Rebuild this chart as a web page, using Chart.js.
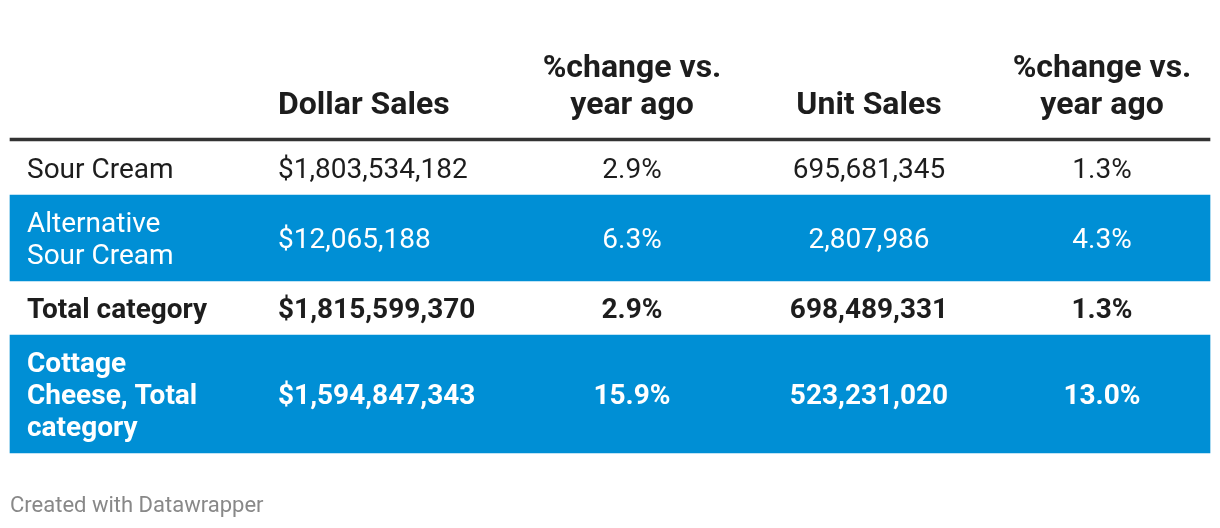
<!DOCTYPE html>
<html>
<head>
<meta charset="utf-8">
<script src="https://cdn.jsdelivr.net/npm/chart.js@4/dist/chart.umd.min.js"></script>
<style>
  html, body { margin: 0; padding: 0; background: #fff; }
  #wrap { position: relative; width: 1220px; height: 528px; }
</style>
</head>
<body>
<div id="wrap"><canvas id="table" width="1220" height="528"></canvas></div>
<script>
// Table content
const headers = [[], ['Dollar Sales'], ['%change vs.', 'year ago'], ['Unit Sales'], ['%change vs.', 'year ago']];
const rowLabels = [['Sour Cream'], ['Alternative', 'Sour Cream'], ['Total category'], ['Cottage', 'Cheese, Total', 'category']];
const dollarSales = [1803534182, 12065188, 1815599370, 1594847343];
const dollarChange = [2.9, 6.3, 2.9, 15.9];
const unitSales = [695681345, 2807986, 698489331, 523231020];
const unitChange = [1.3, 4.3, 1.3, 13.0];
const highlighted = [false, true, false, true];
const boldRows = [false, false, true, true];

// Layout (in layout units of the chart scales)
const tableLeft = 10, tableRight = 1210;
const headerRule = 139.5, bodyTop = 141;
const lineHeight = 32, rowPad = 11;
const textShift = 3; // canvas 'middle' sits a bit high for Roboto
const colX = [27, 278, 632, 869, 1102];
const colAlign = ['left', 'left', 'center', 'center', 'center'];
const blue = '#008fd5';
const ink = '#1d1d1d';

const fmtMoney = v => '$' + v.toLocaleString('en-US');
const fmtNum = v => v.toLocaleString('en-US');
const fmtPct = v => v.toFixed(1) + '%';

// row extents from line counts
const rowTop = [], rowHeight = [];
let cursor = bodyTop;
rowLabels.forEach(lines => {
    rowTop.push(cursor);
    const h = lines.length * lineHeight + rowPad * 2;
    rowHeight.push(h);
    cursor += h;
});

const cells = rowLabels.map((lines, i) => [
    lines,
    [fmtMoney(dollarSales[i])],
    [fmtPct(dollarChange[i])],
    [fmtNum(unitSales[i])],
    [fmtPct(unitChange[i])]
]);

// one floating bar per row as background, plus the header rule
const datasets = rowLabels.map((lines, i) => ({
    data: [{ x: [tableLeft, tableRight], y: rowTop[i] + rowHeight[i] / 2 }],
    backgroundColor: highlighted[i] ? blue : 'rgba(0,0,0,0)',
    barThickness: rowHeight[i],
    grouped: false
}));
datasets.push({
    data: [{ x: [tableLeft, tableRight], y: headerRule }],
    backgroundColor: '#333333',
    barThickness: 3,
    grouped: false
});

const textPlugin = {
    id: 'tableText',
    afterDatasetsDraw(chart) {
        const ctx = chart.ctx;
        const xs = chart.scales.x, ys = chart.scales.y;
        ctx.save();
        ctx.textBaseline = 'middle';

        // header
        ctx.fillStyle = ink;
        ctx.font = 'bold 32px Roboto';
        headers.forEach((lines, c) => {
            ctx.textAlign = colAlign[c];
            lines.forEach((t, k) => {
                const y = 103 + textShift - (lines.length - 1 - k) * 37;
                ctx.fillText(t, xs.getPixelForValue(colX[c]), ys.getPixelForValue(y));
            });
        });

        // body
        cells.forEach((row, i) => {
            ctx.fillStyle = highlighted[i] ? '#ffffff' : ink;
            ctx.font = (boldRows[i] ? 'bold ' : '') + '28px Roboto';
            const mid = rowTop[i] + rowHeight[i] / 2 + textShift;
            row.forEach((lines, c) => {
                ctx.textAlign = colAlign[c];
                lines.forEach((t, k) => {
                    const y = mid + (k - (lines.length - 1) / 2) * lineHeight;
                    ctx.fillText(t, xs.getPixelForValue(colX[c]), ys.getPixelForValue(y));
                });
            });
        });

        // footer
        ctx.fillStyle = '#888888';
        ctx.font = '22px Roboto';
        ctx.textAlign = 'left';
        ctx.fillText('Created with Datawrapper', xs.getPixelForValue(10), ys.getPixelForValue(504 + 2));
        ctx.restore();
    }
};

new Chart(document.getElementById('table'), {
    type: 'bar',
    data: { datasets: datasets },
    options: {
        indexAxis: 'y',
        responsive: false,
        animation: false,
        devicePixelRatio: 1,
        layout: { padding: 0 },
        plugins: { legend: { display: false }, tooltip: { enabled: false } },
        scales: {
            x: { type: 'linear', min: 0, max: 1220, offset: false, display: false },
            y: { type: 'linear', min: 0, max: 528, reverse: true, offset: false, display: false }
        }
    },
    plugins: [textPlugin]
});
</script>
</body>
</html>
